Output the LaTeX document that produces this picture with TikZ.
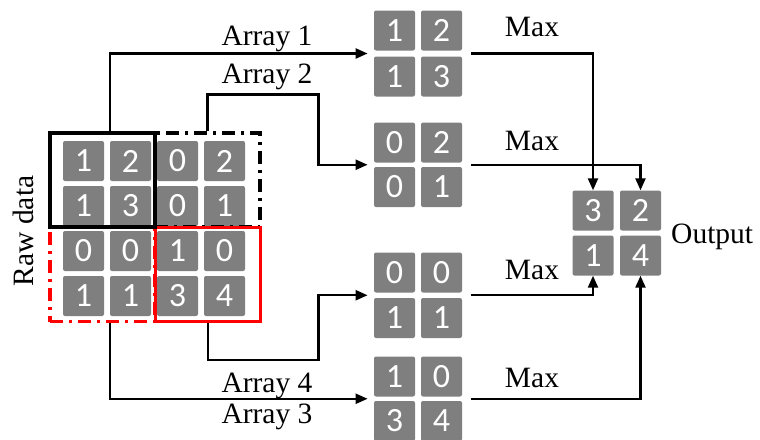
\documentclass[tikz,border=0pt]{standalone}
\usepackage{fontspec}
\setmainfont{Liberation Serif}
\newfontfamily\digitfont{Carlito}
\usetikzlibrary{arrows.meta,fit,calc}
\definecolor{cellgray}{HTML}{7F7F7F}
\definecolor{boxred}{HTML}{FF0000}
% one grey number cell: name, x, y, digit
\newcommand\mkcell[4]{\node[cell] (#1) at (#2,#3) {#4};}
\begin{document}
\begin{tikzpicture}[x=1pt,y=-1pt,
  cell/.style={fill=cellgray, rounded corners=2pt, minimum width=41pt,
    minimum height=40pt, inner sep=0pt, text=white,
    font=\digitfont\fontsize{34}{37}\selectfont},
  lbl/.style={font=\fontsize{29.5}{33}\selectfont, anchor=base, inner sep=0pt},
  conn/.style={line width=2.3pt, -{Triangle[length=12pt,width=10pt]}},
  window/.style={inner sep=0pt, minimum width=105pt, minimum height=94pt,
    line width=3.2pt},
  dashdot/.style={dash pattern=on 13pt off 6pt on 3pt off 6pt},
  grp/.style={inner sep=0pt, fit=#1}
]
\useasboundingbox (0,0) rectangle (760,439);

% raw 4x4 data
\mkcell{r11}{83.5}{161}{1}   \mkcell{r12}{130.5}{161}{2}
\mkcell{r13}{177.5}{161}{0}  \mkcell{r14}{224.5}{161}{2}
\mkcell{r21}{83.5}{206}{1}   \mkcell{r22}{130.5}{206}{3}
\mkcell{r23}{177.5}{206}{0}  \mkcell{r24}{224.5}{206}{1}
\mkcell{r31}{83.5}{251}{0}   \mkcell{r32}{130.5}{251}{0}
\mkcell{r33}{177.5}{251}{1}  \mkcell{r34}{224.5}{251}{0}
\mkcell{r41}{83.5}{296}{1}   \mkcell{r42}{130.5}{296}{1}
\mkcell{r43}{177.5}{296}{3}  \mkcell{r44}{224.5}{296}{4}

% pooling windows
\node[window, draw=black, dashdot] (winB) at (207.5,180) {};
\node[window, draw=boxred, dashdot] (winC) at (102.5,274.5) {};
\node[window, draw=boxred] (winD) at (208,274.5) {};
\node[window, draw=black] (winA) at (102.5,180) {};

\node[lbl, rotate=90] (raw) at (33,231) {Raw data};

% extracted sub-arrays
\mkcell{a11}{394.5}{30.5}{1}  \mkcell{a12}{441.5}{30.5}{2}
\mkcell{a21}{394.5}{76.5}{1}  \mkcell{a22}{441.5}{76.5}{3}
\mkcell{b11}{394.5}{142.5}{0} \mkcell{b12}{441.5}{142.5}{2}
\mkcell{b21}{394.5}{187}{0}   \mkcell{b22}{441.5}{187}{1}
\mkcell{c11}{394.5}{272.5}{0} \mkcell{c12}{441.5}{272.5}{0}
\mkcell{c21}{394.5}{318}{1}   \mkcell{c22}{441.5}{318}{1}
\mkcell{d11}{394.5}{376.5}{1} \mkcell{d12}{441.5}{376.5}{0}
\mkcell{d21}{394.5}{421}{3}   \mkcell{d22}{441.5}{421}{4}
\node[grp={(a11)(a22)}] (g1) {};
\node[grp={(b11)(b22)}] (g2) {};
\node[grp={(c11)(c22)}] (g3) {};
\node[grp={(d11)(d22)}] (g4) {};

% pooled output
\mkcell{o11}{593}{210.5}{3}   \mkcell{o12}{640.5}{210.5}{2}
\mkcell{o21}{593}{255.5}{1}   \mkcell{o22}{640.5}{255.5}{4}
\node[lbl, anchor=base west] (out) at (671,243) {Output};

% window -> sub-array connectors
\draw[conn] ([xshift=7.5pt]winA.north) |- ([xshift=-6pt]g1.west);
\draw[conn] (winB.north) -- ++(0,-37) -| ($(g2.west)+(-55,0)$) -- ([xshift=-6pt]g2.west);
\draw[conn] (winD.south) -- ++(0,37) -| ($(g3.west)+(-55,0)$) -- ([xshift=-6pt]g3.west);
\draw[conn] ([xshift=7.5pt]winC.south) |- ([xshift=-6pt]g4.west);

\node[lbl] (lab1) at (267,45) {Array 1};
\node[lbl] (lab2) at (267,83) {Array 2};
\node[lbl] (lab4) at (267,392) {Array 4};
\node[lbl] (lab3) at (267,423) {Array 3};

% sub-array -> output connectors
\draw[conn] ([xshift=9pt]g1.east) -| (o11.north);
\draw[conn] ([xshift=9pt]g2.east) -| (o12.north);
\draw[conn] ([xshift=9pt]g3.east) -| (o21.south);
\draw[conn] ([xshift=9pt]g4.east) -| (o22.south);

\node[lbl] (max1) at (532,36) {Max};
\node[lbl] (max2) at (532,150) {Max};
\node[lbl] (max3) at (532,279) {Max};
\node[lbl] (max4) at (532,387) {Max};
\end{tikzpicture}
\end{document}
